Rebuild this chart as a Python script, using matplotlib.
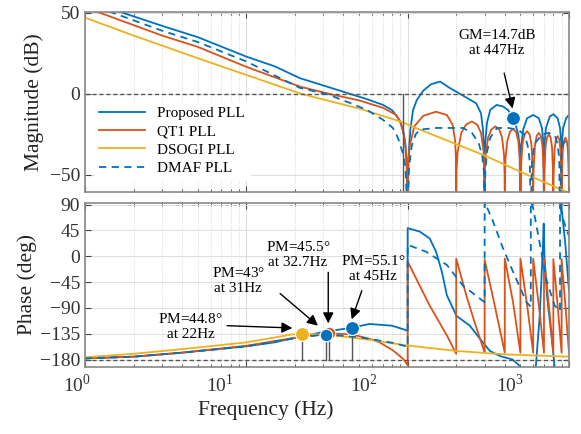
import matplotlib.pyplot as plt
import numpy as np

# fontes estilo Times (MATLAB)
plt.rcParams['font.family'] = ['Liberation Serif']
plt.rcParams['mathtext.fontset'] = 'custom'
plt.rcParams['mathtext.rm'] = 'Liberation Serif'

# cores padrao do MATLAB
azul = '#0072BD'
laranja = '#D95319'
amarelo = '#EDB120'
cinza = '#555555'

# ---------------- MAGNITUDE (dB) ----------------
f_mag_prop = [1, 1.72, 3, 5, 10, 15, 21.5, 30, 38, 44, 55, 70.4, 80, 86, 90, 93.7, 96.5, 98.5, 100,
              101, 104, 108, 114, 125, 140, 159, 180, 220, 266, 285, 293, 297, 300,
              303, 310, 325, 356, 391, 420, 447, 470, 485, 494, 500,
              506, 520, 550, 600, 650, 680, 694, 700,
              706, 720, 760, 800, 850, 880, 895, 900,
              905, 920, 960, 1000]
mag_prop = [58, 50, 42, 35, 23, 17, 9.7, 5.2, 2, 0, -3, -6.8, -10, -14, -17, -23, -30, -42, -80,
            -40, -22, -10, -3.7, 2, 6, 7.6, 4, -1, -5.8, -12, -22, -32, -80,
            -30, -18, -9.9, -6.8, -7.8, -10, -14.5, -20, -25, -32, -80,
            -32, -22, -15, -13, -15, -21, -30, -80,
            -30, -21, -14, -12.5, -15, -21, -30, -80,
            -30, -21, -15, -13]

f_mag_qt1 = [1, 1.24, 3, 5, 10, 21.5, 32.7, 50, 70.4, 85, 89.7, 94, 97, 99, 100,
             101, 103, 110, 125, 150, 175, 190, 197, 199, 200,
             201, 204, 215, 230, 250, 270, 285, 296, 299, 300,
             301, 304, 315, 330, 350, 370, 385, 396, 399, 400,
             401, 404, 415, 430, 450, 470, 485, 496, 499, 500,
             502, 515, 530, 550, 570, 585, 598, 600,
             602, 615, 630, 650, 670, 685, 698, 700,
             702, 715, 730, 750, 770, 785, 798, 800,
             802, 815, 830, 850, 870, 885, 898, 900,
             902, 915, 930, 950, 970, 985, 998, 1000]
mag_qt1 = [53.5, 50, 36, 29, 16.7, 4.5, 0, -4, -8.6, -13, -17, -23, -32, -45, -80,
           -42, -32, -20, -13.5, -11, -13, -19, -29, -39, -80,
           -47, -36, -24, -19, -17, -19, -24, -36, -47, -80,
           -50, -38, -27, -22, -20, -22, -27, -38, -50, -80,
           -52, -40, -29, -23.5, -21.5, -23.5, -29, -40, -52, -80,
           -48, -31, -25, -23, -25, -31, -48, -80,
           -49, -32, -26, -24, -26, -32, -49, -80,
           -50, -33, -27, -25, -27, -33, -50, -80,
           -51, -34, -28, -26, -28, -34, -51, -80,
           -52, -35, -29, -27, -29, -35, -52, -80]

f_mag_dsogi = [1, 2, 5, 10, 22, 33, 50, 90, 119, 200, 300, 500, 1000]
mag_dsogi = [47, 36, 22, 11.7, 0, -4.5, -9, -17, -22, -31, -38, -48, -61]

f_mag_dmaf = [1, 1.49, 3, 5, 10, 21.5, 31, 34.6, 45, 56, 70.4, 81, 87, 93, 97, 100,
              102, 106, 112, 119, 150, 220, 250, 275, 290, 297, 300,
              303, 310, 325, 358, 420, 480, 530, 555, 572, 580,
              590, 610, 680, 750, 820, 850, 870, 880,
              895, 920, 1000]
mag_dmaf = [56, 50, 39, 32, 20, 3.7, 0, -1.6, -6, -9.9, -16, -21, -27, -36, -45, -80,
            -45, -32, -25, -22, -21, -21, -24, -30, -38, -48, -80,
            -48, -36, -27, -21, -21, -22, -25, -32, -42, -80,
            -42, -31, -25, -24, -26, -31, -40, -80,
            -40, -31, -26]

# ---------------- FASE (graus) ----------------
f_fase_prop = [1, 2, 4, 10, 15, 20, 30, 45, 58, 80, 96, 100,
               100, 119, 137, 150, 163, 175, 201, 243, 281, 323, 374, 447, 490, 520, np.nan,
               620, 660, 690, 697, 705, 730, 780, 820, np.nan,
               890, 910, 950, 1000]
fase_prop = [-178, -175, -168, -157, -150, -142, -132, -124.5, -118, -121, -128, -130,
             49, 43, 31, 8, -27, -68, -104, -121, -144, -165, -174, -180, -190, -200, np.nan,
             -200, -100, 20, 57, 0, -68, -140, -200, np.nan,
             95, 72, 20, -60]

f_fase_qt1 = [1, 2, 4, 10, 20, 32.7, 45, 60, 67, 81, 94, 100,
              100, 137, 175, 200,
              200, 232, 260, 300,
              300, 340, 400,
              400, 450, 500,
              500, 550, 600,
              600, 650, 700,
              700, 750, 800,
              800, 850, 900,
              900, 950, 1000]
fase_qt1 = [-178, -175, -168, -156, -142, -134.5, -136, -145, -150, -164, -179, -190,
            -9, -86, -138, -170,
            -4, -70, -115, -168,
            -6, -75, -168,
            -4, -80, -168,
            -4, -85, -168,
            -4, -85, -168,
            -4, -85, -168,
            -5, -85, -168,
            -5, -85, -168]

f_fase_dsogi = [1, 2, 4.3, 10, 19.5, 22, 40, 58, 96, 200, 400, 1000]
fase_dsogi = [-176, -170, -161, -150, -136, -134, -140, -145.6, -155, -165, -171, -175]

f_fase_dmaf = [1, 2, 4, 10, 20, 31, 50, 67, 81, 95, 100,
               100, 130, 175, 220, 281, 300,
               300, 338, 390, 450, 545, 580,
               580, 600, 728, 815, 880,
               880, 900, 1000]
fase_dmaf = [-178, -175, -168, -157, -143, -136, -141, -147, -151, -156, -158,
             20, 8, -15, -51, -74, -80,
             95, 61, 14, -27, -80, -88,
             95, 84, -43, -86, -95,
             95, 72, 35]

# margens
pm_freq = [22, 31, 32.7, 45]
pm_fase = [-135.2, -137, -134.5, -124.9]
pm_cor = [amarelo, azul, laranja, azul]
gm_freq = 447
gm_mag = -14.7

# rotulos do eixo x (na figura original estao deslocados para a esquerda)
x_rotulos = ['$10^0$', '$10^1$', '$10^2$', '$10^3$']
x_rotulos_pos = [-0.017, 0.279, 0.576, 0.878]

# ---------------- FIGURA ----------------
fig = plt.figure(figsize=(5.81, 4.34), dpi=100)
ax1 = fig.add_axes([0.1463, 0.5576, 0.833, 0.4147])
ax2 = fig.add_axes([0.1463, 0.1544, 0.833, 0.378])

lw = 1.3
ax1.semilogx(f_mag_prop, mag_prop, color=azul, lw=lw, label='Proposed PLL')
ax1.semilogx(f_mag_qt1, mag_qt1, color=laranja, lw=lw, label='QT1 PLL')
ax1.semilogx(f_mag_dsogi, mag_dsogi, color=amarelo, lw=lw, label='DSOGI PLL')
ax1.semilogx(f_mag_dmaf, mag_dmaf, color=azul, lw=lw, ls=(0, (4, 3)), label='DMAF PLL')
ax1.axhline(0, color=cinza, lw=1, ls=(0, (3, 2)))
ax1.plot([94, 94], [0, -60.5], color=cinza, lw=1)
ax1.plot(gm_freq, gm_mag, 'o', color=azul, ms=10, mec='white', mew=0.8, zorder=5)
ax1.annotate('GM=14.7dB\nat 447Hz', xy=(gm_freq, -9), xytext=(358, 31.5),
             ha='center', va='center', fontsize=11, linespacing=1.2,
             arrowprops=dict(arrowstyle='-|>', color='black', lw=1, mutation_scale=16,
                             shrinkA=10, shrinkB=0))

ax2.semilogx(f_fase_prop, fase_prop, color=azul, lw=lw)
ax2.semilogx(f_fase_qt1, fase_qt1, color=laranja, lw=lw)
ax2.semilogx(f_fase_dsogi, fase_dsogi, color=amarelo, lw=lw)
ax2.semilogx(f_fase_dmaf, fase_dmaf, color=azul, lw=lw, ls=(0, (4, 3)))
ax2.axhline(-180, color=cinza, lw=1, ls=(0, (3, 2)))
for f, p in zip(pm_freq, pm_fase):
    ax2.plot([f, f], [-180, p], color=cinza, lw=1)
for i in [0, 2, 1, 3]:
    ms = 10 if i in (0, 3) else 9
    ax2.plot(pm_freq[i], pm_fase[i], 'o', color=pm_cor[i], ms=ms, mec='white', mew=0.8, zorder=5)

seta = dict(arrowstyle='-|>', color='black', lw=1, mutation_scale=16, shrinkA=0, shrinkB=0)
ax2.text(4.5, -123, 'PM=44.8$\\degree$\nat 22Hz', ha='center', va='center', fontsize=11)
ax2.annotate('', xy=(19.3, -125), xytext=(7.6, -121), arrowprops=seta)
ax2.text(8.9, -42, 'PM=43$\\degree$\nat 31Hz', ha='center', va='center', fontsize=11)
ax2.annotate('', xy=(27.8, -121), xytext=(16.2, -65), arrowprops=seta)
ax2.text(20.9, 3, 'PM=45.5$\\degree$\nat 32.7Hz', ha='center', va='center', fontsize=11)
ax2.annotate('', xy=(32.2, -117), xytext=(32.2, -28), arrowprops=seta)
ax2.text(61, -22, 'PM=55.1$\\degree$\nat 45Hz', ha='center', va='center', fontsize=11)
ax2.annotate('', xy=(45, -110), xytext=(52, -60), arrowprops=seta)

# eixos
for ax in (ax1, ax2):
    ax.set_xlim(1, 1000)
    ax.grid(True, which='major', color='#dcdcdc', lw=0.7)
    ax.grid(True, which='minor', axis='x', color='#cfcfcf', lw=0.6, ls=':')
    ax.tick_params(which='both', direction='in', top=True, right=True, colors='#444444',
                   labelcolor='#333333', labelsize=14, labelbottom=False)
    ax.tick_params(which='major', length=4)
    ax.tick_params(which='minor', length=2)
    for s in ax.spines.values():
        s.set_color('#888888')
        s.set_linewidth(1.2)
    ax.set_axisbelow(True)

ax1.set_ylim(-60.5, 50.5)
ax1.set_yticks([-50, 0, 50])
ax1.set_ylabel('Magnitude (dB)', fontsize=15.5, color='#222222', labelpad=4)

ax2.set_ylim(-193, 93)
ax2.set_yticks([90, 45, 0, -45, -90, -135, -180])
ax2.set_ylabel('Phase (deg)', fontsize=15.5, color='#222222', labelpad=2)
for txt, xp in zip(x_rotulos, x_rotulos_pos):
    ax2.text(xp, -0.11, txt, transform=ax2.transAxes, ha='center', va='center',
             fontsize=14, color='#333333')
fig.text(0.458, 0.055, 'Frequency (Hz)', ha='center', va='center', fontsize=15.5, color='#222222')

leg = ax1.legend(loc='upper left', bbox_to_anchor=(0.02, 0.50), fontsize=11, frameon=True,
                 fancybox=False, edgecolor='white', facecolor='white', framealpha=1,
                 borderaxespad=0, handlelength=3.0, labelspacing=0.3, borderpad=0.3)
leg.set_zorder(6)

plt.savefig('out.png', dpi=100)
